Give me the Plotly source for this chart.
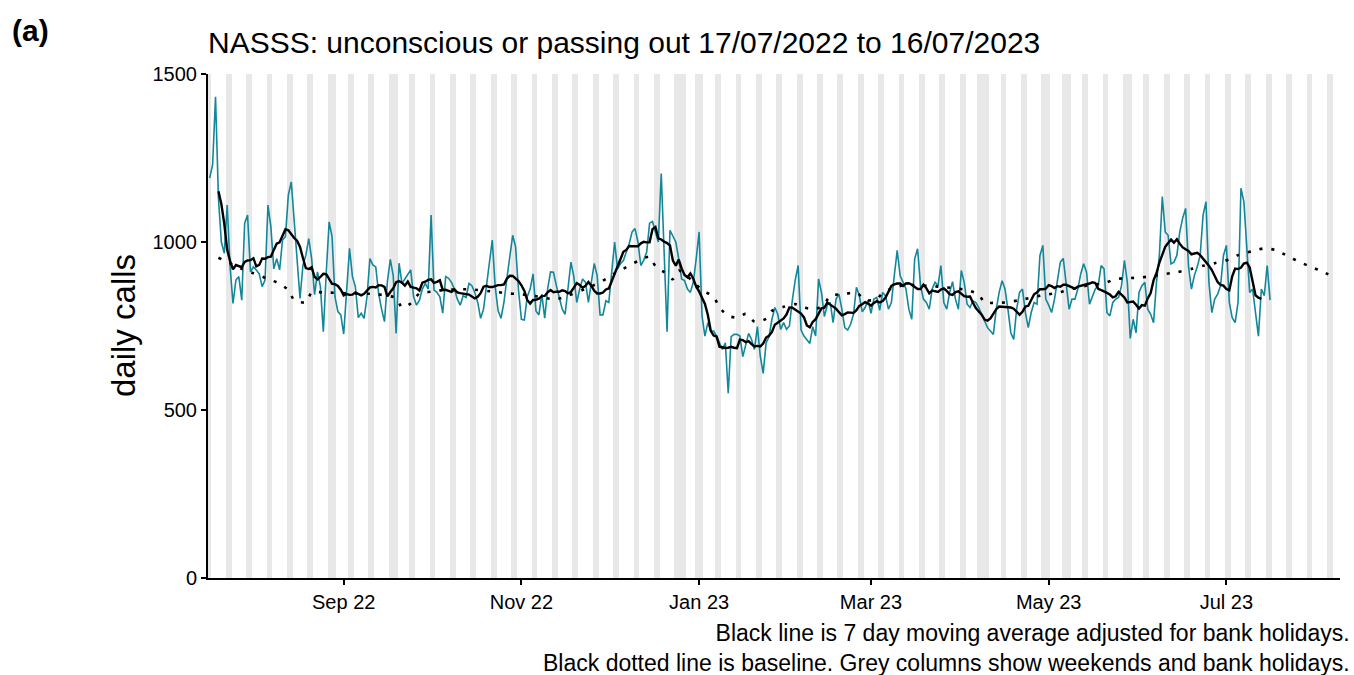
import pandas as pd
import plotly.graph_objects as go

start_date = "2022-07-17"
daily_calls = [
    1190, 1230, 1432, 1130, 1000, 966, 1110, 926, 817, 887, 897, 827, 1056, 1080,
    911, 926, 917, 905, 867, 887, 1110, 1045, 920, 950, 917, 1006, 1016, 1140,
    1179, 1056, 930, 832, 930, 960, 1010, 950, 843, 911, 867, 733, 907, 1060,
    1016, 837, 793, 783, 726, 870, 981, 897, 867, 775, 788, 773, 837, 951,
    932, 926, 846, 800, 763, 882, 948, 900, 728, 937, 877, 890, 905, 917,
    837, 812, 827, 860, 877, 860, 1080, 857, 850, 837, 788, 897, 892, 880,
    860, 830, 812, 840, 835, 877, 870, 850, 820, 773, 800, 870, 950, 1006,
    867, 795, 773, 820, 890, 950, 1020, 986, 857, 770, 768, 837, 860, 905,
    795, 783, 845, 773, 860, 911, 910, 870, 830, 800, 785, 857, 940, 897,
    820, 860, 890, 880, 820, 880, 936, 900, 783, 783, 825, 820, 900, 1000,
    920, 935, 945, 970, 995, 1030, 1040, 1000, 930, 946, 970, 1056, 1061, 1030,
    1000, 1204, 990, 733, 1035, 1015, 1000, 950, 890, 885, 860, 850, 880, 950,
    1030, 780, 720, 760, 735, 735, 720, 700, 680, 700, 550, 718, 725, 725,
    720, 659, 690, 728, 710, 680, 748, 660, 609, 700, 718, 770, 805, 785,
    740, 760, 740, 750, 827, 887, 930, 738, 720, 708, 698, 748, 720, 890,
    850, 778, 812, 820, 760, 830, 845, 800, 745, 738, 755, 785, 865, 840,
    792, 805, 827, 788, 830, 835, 797, 850, 840, 800, 820, 900, 975, 900,
    880, 860, 800, 770, 950, 980, 870, 830, 820, 800, 860, 880, 870, 930,
    820, 800, 850, 882, 830, 800, 915, 880, 815, 805, 825, 820, 805, 785,
    768, 745, 735, 725, 800, 850, 885, 860, 800, 730, 710, 800, 850, 860,
    790, 745, 790, 820, 815, 960, 990, 830, 812, 790, 830, 887, 940, 951,
    870, 800, 830, 830, 860, 905, 935, 910, 815, 840, 860, 870, 930, 920,
    790, 780, 820, 830, 835, 870, 945, 880, 713, 770, 730, 850, 870, 880,
    800, 785, 760, 880, 960, 1135, 1030, 1020, 935, 940, 960, 1030, 1071, 1100,
    927, 860, 900, 926, 960, 1080, 1120, 880, 790, 830, 845, 870, 960, 990,
    820, 775, 760, 820, 1160, 1120, 980, 850, 860, 780, 720, 860, 840, 930,
    827,
]

baseline_dates = [
    "2022-07-20", "2022-07-28", "2022-08-01", "2022-08-06", "2022-08-10", "2022-08-13",
    "2022-08-15", "2022-08-19", "2022-08-21", "2022-08-25", "2022-09-03", "2022-09-12",
    "2022-09-19", "2022-09-21", "2022-09-24", "2022-09-27", "2022-10-01", "2022-10-05",
    "2022-10-10", "2022-10-14", "2022-10-23", "2022-10-27", "2022-10-31", "2022-11-05",
    "2022-11-13", "2022-11-26", "2022-11-30", "2022-12-03", "2022-12-07", "2022-12-11",
    "2022-12-15", "2022-12-17", "2022-12-20", "2022-12-23", "2022-12-25", "2022-12-30",
    "2023-01-02", "2023-01-06", "2023-01-08", "2023-01-11", "2023-01-14", "2023-01-17",
    "2023-01-20", "2023-01-24", "2023-01-26", "2023-01-30", "2023-02-03", "2023-02-06",
    "2023-02-10", "2023-02-13", "2023-02-15", "2023-02-20", "2023-02-24", "2023-02-27",
    "2023-03-03", "2023-03-05", "2023-03-09", "2023-03-13", "2023-03-23", "2023-04-03",
    "2023-04-07", "2023-04-09", "2023-04-12", "2023-04-16", "2023-04-21", "2023-04-29",
    "2023-05-03", "2023-05-11", "2023-05-15", "2023-05-20", "2023-05-24", "2023-05-28",
    "2023-06-02", "2023-06-06", "2023-06-10", "2023-06-14", "2023-06-19", "2023-06-23",
    "2023-06-27", "2023-07-02", "2023-07-05", "2023-07-10", "2023-07-14", "2023-07-18",
    "2023-07-22", "2023-07-26", "2023-07-30", "2023-08-03", "2023-08-07",
]
baseline_values = [
    953, 920, 907, 890, 876, 857, 827, 820, 850, 850, 847, 845,
    833, 805, 817, 847, 852, 857, 859, 859, 852, 847, 845, 840,
    830, 872, 890, 907, 925, 943, 956, 928, 910, 889, 915, 882,
    857, 837, 805, 780, 775, 786, 763, 771, 795, 807, 815, 805,
    800, 815, 840, 845, 850, 827, 829, 849, 864, 872, 868, 857,
    844, 819, 819, 820, 827, 842, 847, 864, 872, 877, 890, 892,
    895, 899, 905, 910, 920, 929, 937, 948, 961, 973, 981, 976,
    958, 941, 926, 912, 895,
]

bank_holidays = [
    "2022-08-29", "2022-09-19", "2022-12-26", "2022-12-27", "2023-01-02",
    "2023-04-07", "2023-04-10", "2023-05-01", "2023-05-08", "2023-05-29",
]
shade_start = "2022-07-16"
shade_end = "2023-08-09"

x_tick_dates = ["2022-09-01", "2022-11-01", "2023-01-01", "2023-03-01", "2023-05-01", "2023-07-01"]
x_tick_labels = ["Sep 22", "Nov 22", "Jan 23", "Mar 23", "May 23", "Jul 23"]
y_tick_values = [0, 500, 1000, 1500]

title_text = "NASSS: unconscious or passing out 17/07/2022 to 16/07/2023"
caption_lines = [
    "Black line is 7 day moving average adjusted for bank holidays.",
    "Black dotted line is baseline. Grey columns show weekends and bank holidays.",
]

dates = pd.date_range(start_date, periods=len(daily_calls), freq="D")
series = pd.Series(daily_calls, index=dates)
moving_avg = series.rolling(7, center=True).mean()

all_days = pd.date_range(shade_start, shade_end, freq="D")
shade_days = [d for d in all_days if d.weekday() >= 5 or d.strftime("%Y-%m-%d") in bank_holidays]

W, H = 1354, 675
L, R, T, B = 208, 14, 74, 97
PW, PH = W - L - R, H - T - B


def px_x(x):
    return (x - L) / PW


def px_y(y):
    return (H - B - y) / PH


fig = go.Figure()
fig.add_trace(go.Bar(
    x=shade_days, y=[1500] * len(shade_days), base=0,
    width=86400000, marker=dict(color="#E8E8E8", line=dict(width=0)),
    hoverinfo="skip", showlegend=False,
))
fig.add_trace(go.Scatter(
    x=dates, y=daily_calls, mode="lines",
    line=dict(color="#13879A", width=1.6), showlegend=False,
))
fig.add_trace(go.Scatter(
    x=pd.to_datetime(baseline_dates), y=baseline_values, mode="lines",
    line=dict(color="black", width=2.6, dash="3px,9px", shape="spline", smoothing=0.6),
    showlegend=False,
))
fig.add_trace(go.Scatter(
    x=moving_avg.index, y=moving_avg.values, mode="lines",
    line=dict(color="black", width=2.4), showlegend=False,
))

font_family = "Liberation Sans, Arial, sans-serif"
fig.update_layout(
    width=W, height=H,
    margin=dict(l=L, r=R, t=T, b=B, autoexpand=False),
    paper_bgcolor="white", plot_bgcolor="white",
    bargap=0,
    font=dict(family=font_family, color="black"),
    title=dict(
        text=title_text,
        x=L / W, xanchor="left", xref="container",
        y=1 - 42 / H, yanchor="middle", yref="container",
        font=dict(size=30, color="black", family=font_family),
    ),
    xaxis=dict(
        range=["2022-07-16 10:00", "2023-08-09 00:00"],
        tickvals=pd.to_datetime(x_tick_dates), ticktext=x_tick_labels,
        showgrid=False, zeroline=False,
        showline=True, linecolor="black", linewidth=2,
        ticks="outside", ticklen=5, tickwidth=1.5, tickcolor="black",
        tickfont=dict(size=20, color="black"),
    ),
    yaxis=dict(
        range=[0, 1500], tickvals=y_tick_values,
        showgrid=False, zeroline=False,
        showline=True, linecolor="black", linewidth=2,
        ticks="outside", ticklen=5, tickwidth=1.5, tickcolor="black",
        tickfont=dict(size=20, color="black"),
    ),
    annotations=[
        dict(text="<b>(a)</b>", x=px_x(10), y=px_y(30), xref="paper", yref="paper",
             xanchor="left", yanchor="middle",
             showarrow=False, font=dict(size=30, color="black")),
        dict(text="daily calls", x=px_x(123), y=px_y(326), xref="paper", yref="paper",
             xanchor="center", yanchor="middle", textangle=-90,
             showarrow=False, font=dict(size=33, color="black")),
        dict(text="<br>".join(caption_lines), x=px_x(1351), y=px_y(648),
             xref="paper", yref="paper", xanchor="right", yanchor="middle",
             align="right", showarrow=False, borderpad=0,
             font=dict(size=23, color="black")),
    ],
)
fig.write_html(
    "out.html",
    config={"displayModeBar": False},
    post_script="document.body.style.margin='0';document.body.style.overflow='hidden';",
)
